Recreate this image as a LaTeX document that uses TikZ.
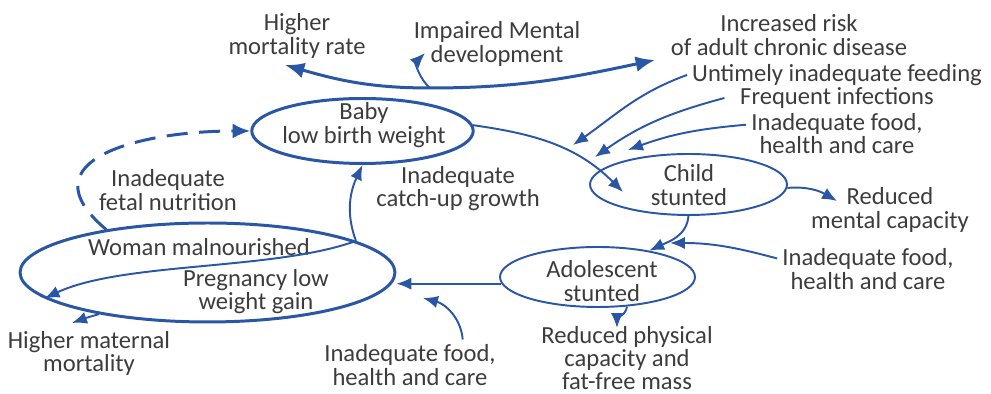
\documentclass[tikz,border=0pt]{standalone}
\usepackage{fontspec}
\setmainfont{Carlito}
\usetikzlibrary{arrows.meta,shapes.geometric}
\definecolor{cycleblue}{RGB}{42,86,166}
\definecolor{labelgray}{RGB}{60,60,60}

\begin{document}
\begin{tikzpicture}[x=0.02cm,y=0.02cm,
    lbl/.style={align=center,inner sep=0pt,outer sep=3pt,text=labelgray,font=\fontsize{14}{13.2}\selectfont},
    stage/.style={ellipse,draw=cycleblue,line width=1.1pt,inner sep=0pt},
    link/.style={draw=cycleblue,line width=1.1pt,-{Latex[length=8.5pt,width=7pt]}},
    boldlink/.style={draw=cycleblue,line width=1.7pt}]
    \useasboundingbox (0,0) rectangle (991,394);

    \node[stage,line width=1.7pt,minimum width=4.43cm,minimum height=1.3cm] (baby) at (362.5,263) {};
    \node[stage,line width=1.7pt,minimum width=7.5cm,minimum height=1.98cm] (woman) at (207.5,121.5) {};
    \node[stage,minimum width=3.94cm,minimum height=1.22cm] (child) at (688.5,209.5) {};
    \node[stage,minimum width=3.9cm,minimum height=1.2cm] (adol) at (597.5,117) {};

    \node[lbl] (babytxt) at (364,269) {Baby\\low birth weight};
    \node[lbl] (womantxt) at (199,147) {Woman malnourished};
    \node[lbl] (pregtxt) at (256,102.5) {Pregnancy low\\weight gain};
    \node[lbl] (childtxt) at (689,209) {Child\\stunted};
    \node[lbl] (adoltxt) at (602,113) {Adolescent\\stunted};
    \node[lbl] (mort) at (297,358) {Higher\\mortality rate};
    \node[lbl] (impair) at (497,350) {Impaired Mental\\development};
    \node[lbl] (chronic) at (789,359) {Increased risk\\of adult chronic disease};
    \node[lbl] (feeding) at (837,319) {Untimely inadequate feeding};
    \node[lbl] (infect) at (837,296) {Frequent infections};
    \node[lbl] (foodA) at (837,260.5) {Inadequate food,\\health and care};
    \node[lbl] (fetal) at (168,204) {Inadequate\\fetal nutrition};
    \node[lbl] (catchup) at (458,205.5) {Inadequate\\catch-up growth};
    \node[lbl] (mental) at (890,184) {Reduced\\mental capacity};
    \node[lbl] (foodB) at (868,125) {Inadequate food,\\health and care};
    \node[lbl] (maternal) at (89,40.5) {Higher maternal\\mortality};
    \node[lbl] (foodC) at (410,29) {Inadequate food,\\health and care};
    \node[lbl] (physical) at (627,36) {Reduced physical\\capacity and\\fat-free mass};

    \coordinate (hub) at (430,306);
    \coordinate (mortend) at (285,329);
    \coordinate (chronend) at (655,334);
    \coordinate (impairend) at (425,341);
    \coordinate (childin) at (623,202);
    \coordinate (feedend) at (573,249);
    \coordinate (infectend) at (595,237);
    \coordinate (foodAend) at (628,244);
    \coordinate (mentalend) at (837,193);
    \coordinate (foodBend) at (670,151);
    \coordinate (foodCend) at (423,96);
    \coordinate (physend) at (617,66);
    \coordinate (maternalend) at (72,71);

    \draw[boldlink,{Latex[length=11pt,width=9pt]}-{Latex[length=11pt,width=9pt]}] (mortend) to[out=-16,in=180] (hub) to[out=0,in=192] (chronend);
    \draw[link] (hub) to[out=140,in=225] (impairend);
    \draw[boldlink,dash pattern=on 12pt off 6.5pt,-{Latex[length=10pt,width=8.5pt]}] (woman.157) to[out=140,in=180,looseness=1.6] (baby.180);
    \draw[link] (woman.12) to[out=110,in=-115] (baby.south);
    \draw[link] (woman.12) to[out=200,in=25,looseness=0.7] (woman.189);
    \draw[link] (woman.201) to[out=195,in=20] (maternalend);
    \draw[link] (baby.3) to[out=-8,in=135] (childin);
    \draw[link] (feeding.west) to[out=200,in=35] (feedend);
    \draw[link] ([xshift=-6pt]infect.west) to[out=195,in=35] (infectend);
    \draw[link] ([yshift=5pt]foodA.west) to[out=185,in=20] (foodAend);
    \draw[link] (child.-2) to[out=5,in=150] (mentalend);
    \draw[link] (child.south) to[out=-95,in=25] (adol.27);
    \draw[link] ([yshift=6pt]foodB.west) to[out=165,in=0] (foodBend);
    \draw[link] (adol.184) -- (adol.184 -| woman.east);
    \draw[link] ([xshift=30pt]foodC.north) to[out=95,in=-15] (foodCend);
    \draw[link] (adol.315) to[out=-100,in=90] (physend);
\end{tikzpicture}
\end{document}
